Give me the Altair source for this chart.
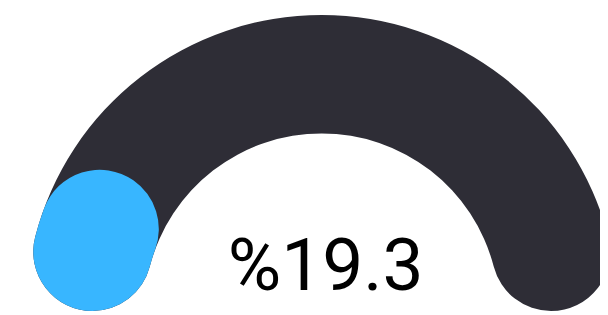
import math
import altair as alt
import pandas as pd

# Gauge data
gauge_min = [0]
gauge_max = [100]
value = [19.3]
segments = ["track", "value"]
seg_colors = ["#2e2d36", "#38b6ff"]

track_df = pd.DataFrame({"seg": [segments[0]], "start": gauge_min, "end": gauge_max})
value_df = pd.DataFrame({"seg": [segments[1]], "start": gauge_min, "end": value})
label_df = pd.DataFrame({"label": ["%" + str(v) for v in value]})

theta_scale = alt.Scale(domain=[gauge_min[0], gauge_max[0]], range=[-math.pi / 2, math.pi / 2])
color_scale = alt.Scale(domain=segments, range=seg_colors)

CX, CY = 318, 305

def arc_layer(df):
    return alt.Chart(df).mark_arc(outerRadius=300, innerRadius=180, cornerRadius=60).encode(
        theta=alt.Theta("start:Q", scale=theta_scale),
        theta2="end:Q",
        color=alt.Color("seg:N", scale=color_scale, legend=None),
        x=alt.value(CX),
        y=alt.value(CY),
    )

text = alt.Chart(label_df).mark_text(
    font="Roboto", fontSize=74, fontWeight=400, color="#000000", align="center", baseline="alphabetic"
).encode(text="label:N", x=alt.value(CX + 4), y=alt.value(284))

chart = alt.layer(arc_layer(track_df), arc_layer(value_df), text).properties(
    width=600, height=307, autosize=alt.AutoSizeParams(type="none"), padding=0, background="#ffffff"
).configure_view(stroke=None)

chart.save("out.html", embed_options={"renderer": "svg", "actions": False})
